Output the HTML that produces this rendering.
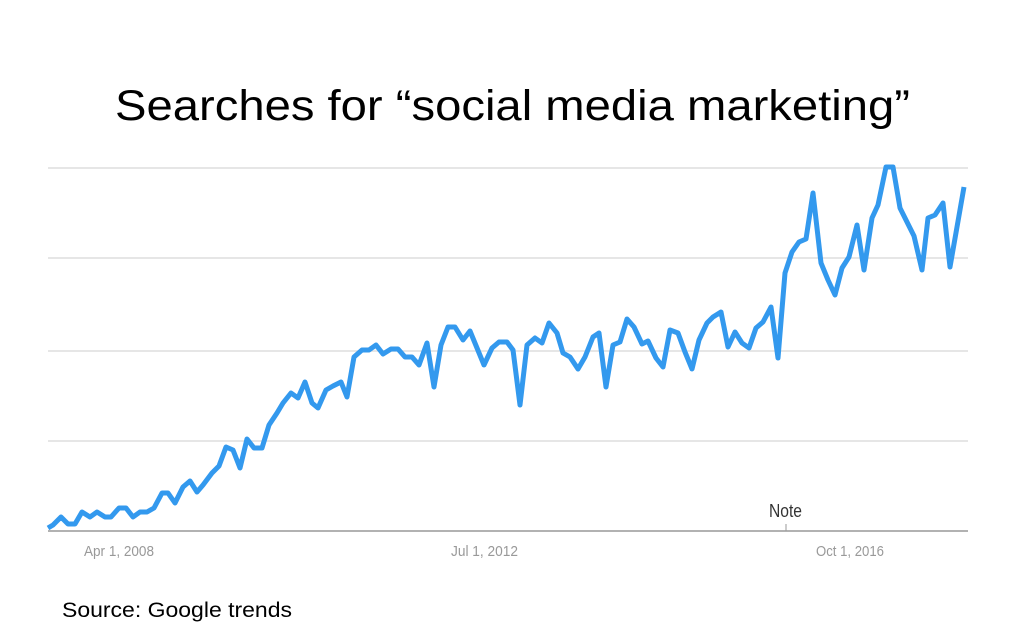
<!DOCTYPE html>
<html><head><meta charset="utf-8"><style>
html,body{margin:0;padding:0;background:#fff;width:1024px;height:624px;overflow:hidden}
</style></head><body>
<svg width="1024" height="624" viewBox="0 0 1024 624" xmlns="http://www.w3.org/2000/svg">
<rect width="1024" height="624" fill="#fff"/>
<text x="115" y="120" textLength="795" lengthAdjust="spacingAndGlyphs" font-family="Liberation Sans, sans-serif" font-size="43" fill="#000">Searches for “social media marketing”</text>
<g stroke="#dddddd" stroke-width="1.5">
<line x1="48" y1="168" x2="968" y2="168"/>
<line x1="48" y1="258" x2="968" y2="258"/>
<line x1="48" y1="351" x2="968" y2="351"/>
<line x1="48" y1="441" x2="968" y2="441"/>
</g>
<line x1="48" y1="531" x2="968" y2="531" stroke="#999" stroke-width="1.5"/>
<line x1="786" y1="524" x2="786" y2="531" stroke="#999" stroke-width="1"/>
<text x="769" y="517" textLength="33" lengthAdjust="spacingAndGlyphs" font-family="Liberation Sans, sans-serif" font-size="18" fill="#333">Note</text>
<g font-family="Liberation Sans, sans-serif" font-size="15" fill="#999">
<text x="84" y="556" textLength="70" lengthAdjust="spacingAndGlyphs">Apr 1, 2008</text>
<text x="451" y="556" textLength="67" lengthAdjust="spacingAndGlyphs">Jul 1, 2012</text>
<text x="816" y="556" textLength="68" lengthAdjust="spacingAndGlyphs">Oct 1, 2016</text>
</g>
<polyline fill="none" stroke="#3399ee" stroke-width="5" stroke-linejoin="round" points="48,528 53,525 61,517 68,524 75,524 82,512 90,517 97,512 105,517 111,517 119,508 126,508 133,517 140,512 147,512 154,508 162,493 168,493 175,503 183,487 190,481 197,492 203,485 212,473 219,466 226,447 233,450 240,468 247,439 254,448 262,448 269,425 277,413 283,403 291,393 298,398 305,382 312,403 318,408 326,390 333,386 341,382 347,397 354,357 362,350 369,350 376,345 383,354 391,349 398,349 405,357 412,357 419,365 427,343 434,387 441,345 448,327 455,327 463,340 470,331 477,348 484,365 492,348 499,342 507,342 513,350 520,405 527,345 535,338 542,343 549,323 557,333 563,353 570,357 578,369 585,357 593,337 599,333 606,387 613,345 620,342 627,319 634,327 642,344 648,341 656,358 663,367 670,330 678,333 685,352 692,369 699,340 707,323 713,317 721,312 728,347 735,332 742,343 749,348 756,328 763,322 771,307 778,358 785,273 792,252 799,242 806,239 813,193 821,263 828,280 835,295 842,268 849,257 857,225 864,270 872,218 878,205 886,167 893,167 900,208 907,222 914,236 922,270 928,218 935,215 943,203 950,267 964,187"/>
<text x="62" y="617" textLength="230" lengthAdjust="spacingAndGlyphs" font-family="Liberation Sans, sans-serif" font-size="21" fill="#000">Source: Google trends</text>
</svg>
</body></html>
